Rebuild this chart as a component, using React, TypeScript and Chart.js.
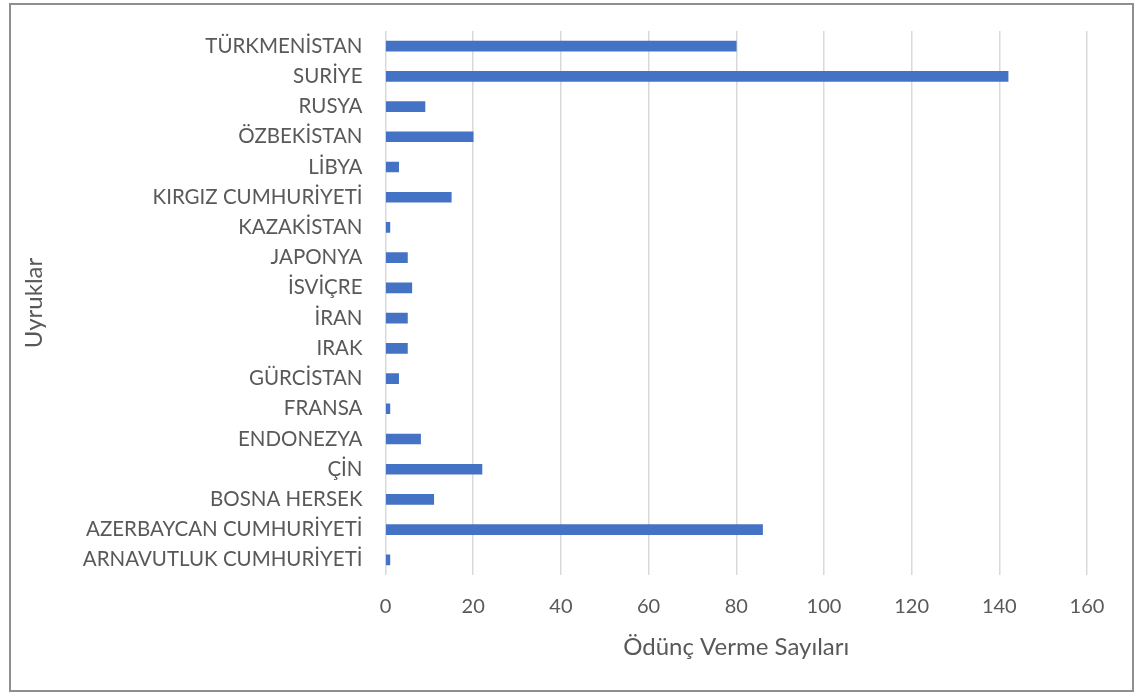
import React, { useEffect, useRef } from "react";
import { Chart, registerables } from "chart.js";

Chart.register(...registerables);

const categories: string[] = [
  "TÜRKMENİSTAN",
  "SURİYE",
  "RUSYA",
  "ÖZBEKİSTAN",
  "LİBYA",
  "KIRGIZ CUMHURİYETİ",
  "KAZAKİSTAN",
  "JAPONYA",
  "İSVİÇRE",
  "İRAN",
  "IRAK",
  "GÜRCİSTAN",
  "FRANSA",
  "ENDONEZYA",
  "ÇİN",
  "BOSNA HERSEK",
  "AZERBAYCAN CUMHURİYETİ",
  "ARNAVUTLUK CUMHURİYETİ",
];

const loanCounts: number[] = [80, 142, 9, 20, 3, 15, 1, 5, 6, 5, 5, 3, 1, 8, 22, 11, 86, 1];

const xMin = 0;
const xMax = 160;
const xStep = 20;

const xTitle = "Ödünç Verme Sayıları";
const yTitle = "Uyruklar";

const FONT = "Lato, 'Open Sans', sans-serif";

export default function App() {
  const canvasRef = useRef<HTMLCanvasElement | null>(null);

  useEffect(() => {
    const canvas = canvasRef.current;
    if (!canvas) return;
    const chart = new Chart(canvas, {
      type: "bar",
      data: {
        labels: categories,
        datasets: [
          {
            data: loanCounts,
            backgroundColor: "#4472c4",
            borderWidth: 0,
            barThickness: 10,
          },
        ],
      },
      options: {
        indexAxis: "y",
        responsive: false,
        animation: false,
        maintainAspectRatio: false,
        layout: { padding: { top: 26, right: 45, bottom: 0, left: 0 } },
        plugins: {
          legend: { display: false },
          tooltip: { enabled: false },
        },
        scales: {
          x: {
            min: xMin,
            max: xMax,
            ticks: {
              stepSize: xStep,
              color: "#595959",
              font: { family: FONT, size: 20 },
              padding: 20,
              maxRotation: 0,
            },
            grid: { color: "#d9d9d9", lineWidth: 1.5, drawTicks: false },
            border: { display: false },
            title: {
              display: true,
              text: xTitle,
              color: "#595959",
              font: { family: FONT, size: 24 },
              padding: { top: 0, bottom: 28 },
            },
            afterFit: (scale: any) => {
              scale.height = 115;
              scale.paddingLeft = 0;
              scale.paddingRight = 0;
            },
          },
          y: {
            ticks: {
              color: "#595959",
              font: { family: FONT, size: 20.5 },
              padding: 23,
              autoSkip: false,
            },
            grid: { display: false, drawTicks: false },
            border: { display: false },
            title: {
              display: true,
              text: yTitle,
              color: "#595959",
              font: { family: FONT, size: 24 },
              padding: { top: 9, bottom: 0 },
            },
            afterFit: (scale: any) => {
              scale.width = 374.5;
              scale.paddingTop = 0;
              scale.paddingBottom = 0;
            },
          },
        },
      },
    });
    return () => chart.destroy();
  }, []);

  return (
    <div
      style={{
        position: "absolute",
        left: 9,
        top: 3,
        width: 1125,
        height: 689,
        boxSizing: "border-box",
        border: "2px solid #8f8f8f",
        background: "#ffffff",
      }}
    >
      <canvas ref={canvasRef} width={1121} height={685} style={{ display: "block" }} />
    </div>
  );
}
